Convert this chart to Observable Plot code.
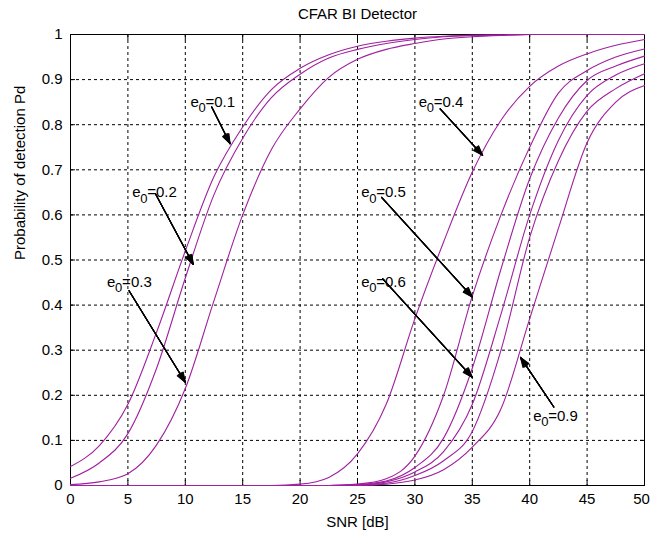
<!DOCTYPE html>
<html>
<head>
<meta charset="utf-8">
<script src="https://cdn.jsdelivr.net/npm/d3@7"></script>
<script src="https://cdn.jsdelivr.net/npm/@observablehq/plot@0.6"></script>
<style>
  html, body { margin: 0; padding: 0; background: #ffffff; }
  #chart { width: 651px; height: 536px; }
</style>
</head>
<body>
<div id="chart"></div>
<script>
// ---- data ----
const snr = [0, 2.5, 5, 7.5, 10, 12.5, 15, 17.5, 20, 22.5, 25, 27.5, 30, 32.5, 35, 37.5, 40, 42.5, 45, 47.5, 50];
const pd01 = [0.042, 0.088, 0.18, 0.34, 0.52, 0.685, 0.795, 0.878, 0.925, 0.955, 0.974, 0.985, 0.992, 0.996, 0.998, 0.999, 1, 1, 1, 1, 1];
const pd02 = [0.016, 0.05, 0.115, 0.26, 0.46, 0.645, 0.77, 0.86, 0.912, 0.948, 0.967, 0.98, 0.989, 0.995, 0.998, 0.999, 1, 1, 1, 1, 1];
const pd03 = [0.002, 0.008, 0.026, 0.09, 0.215, 0.41, 0.6, 0.745, 0.835, 0.905, 0.945, 0.967, 0.98, 0.99, 0.995, 0.998, 1, 1, 1, 1, 1];
const pd04 = [0, 0, 0, 0, 0, 0, 0, 0, 0.003, 0.018, 0.07, 0.18, 0.37, 0.54, 0.695, 0.81, 0.885, 0.93, 0.957, 0.976, 0.989];
const pd05 = [0, 0, 0, 0, 0, 0, 0, 0, 0, 0, 0.003, 0.015, 0.065, 0.2, 0.42, 0.6, 0.75, 0.87, 0.92, 0.95, 0.968];
const pd06 = [0, 0, 0, 0, 0, 0, 0, 0, 0, 0, 0.002, 0.01, 0.04, 0.105, 0.26, 0.48, 0.68, 0.815, 0.898, 0.93, 0.952];
const pd07 = [0, 0, 0, 0, 0, 0, 0, 0, 0, 0, 0.001, 0.008, 0.03, 0.075, 0.18, 0.38, 0.6, 0.765, 0.865, 0.91, 0.935];
const pd08 = [0, 0, 0, 0, 0, 0, 0, 0, 0, 0, 0.001, 0.005, 0.022, 0.055, 0.12, 0.3, 0.55, 0.72, 0.83, 0.88, 0.913];
const pd09 = [0, 0, 0, 0, 0, 0, 0, 0, 0, 0, 0, 0.003, 0.012, 0.035, 0.085, 0.17, 0.37, 0.57, 0.76, 0.85, 0.887];
const seriesNames = ["0.1", "0.2", "0.3", "0.4", "0.5", "0.6", "0.7", "0.8", "0.9"];
const seriesValues = [pd01, pd02, pd03, pd04, pd05, pd06, pd07, pd08, pd09];

const xTicks = [0, 5, 10, 15, 20, 25, 30, 35, 40, 45, 50];
const yTicks = [0, 0.1, 0.2, 0.3, 0.4, 0.5, 0.6, 0.7, 0.8, 0.9, 1];

// annotations (data coordinates): "e" + subscript "0" + "=value"
const annValue = ["0.1", "0.2", "0.3", "0.4", "0.5", "0.6", "0.9"];
const annTextX = [10.45, 5.37, 3.19, 30.34, 25.32, 25.32, 40.3];
const annTextY = [0.85, 0.65, 0.451, 0.85, 0.65, 0.451, 0.154];
const arrowX1 = [12.3, 7.4, 5.1, 32.2, 27.1, 27.2, 42.1];
const arrowY1 = [0.839, 0.647, 0.432, 0.835, 0.639, 0.458, 0.174];
const arrowX2 = [13.9, 10.7, 10.0, 35.9, 35.0, 35.0, 39.2];
const arrowY2 = [0.758, 0.49, 0.229, 0.732, 0.418, 0.24, 0.284];

const titleText = "CFAR BI Detector";
const xLabel = "SNR [dB]";
const yLabel = "Probability of detection Pd";

// ---- build tables ----
const lineData = seriesNames.flatMap((name, i) => snr.map((s, j) => ({e0: name, snr: s, pd: seriesValues[i][j]})));
const ann = annValue.map((v, i) => ({v: "=" + v, x: annTextX[i], y: annTextY[i], x1: arrowX1[i], y1: arrowY1[i], x2: arrowX2[i], y2: arrowY2[i]}));

const curveColor = "#a0209f";
const font = "'Liberation Sans', Arial, Helvetica, sans-serif";
const gridStyle = {stroke: "#000", strokeOpacity: 1, strokeWidth: 1, strokeDasharray: "3,3"};
const fmt = d => String(d);

const headMarks = [8, 16, 24, 32, 40].map(a => Plot.arrow(ann, {
  x1: "x1", y1: "y1", x2: "x2", y2: "y2",
  stroke: "#000", strokeWidth: 1.1, headAngle: a, headLength: 14
}));

const chart = Plot.plot({
  width: 651,
  height: 536,
  marginTop: 34,
  marginRight: 7,
  marginBottom: 51,
  marginLeft: 70,
  style: {fontFamily: font, fontSize: "15px", background: "#ffffff", color: "#000", overflow: "visible"},
  x: {domain: [0, 50]},
  y: {domain: [0, 1]},
  marks: [
    Plot.gridX(xTicks, gridStyle),
    Plot.gridY(yTicks, gridStyle),
    Plot.frame({stroke: "#000", strokeWidth: 1}),
    Plot.axisX(xTicks, {anchor: "bottom", tickSize: -5, tickFormat: () => "", label: null}),
    Plot.axisX(xTicks, {anchor: "top", tickSize: -5, tickFormat: () => "", label: null}),
    Plot.axisY(yTicks, {anchor: "left", tickSize: -5, tickFormat: () => "", label: null}),
    Plot.axisY(yTicks, {anchor: "right", tickSize: -5, tickFormat: () => "", label: null}),
    Plot.axisX(xTicks.slice(0, -1), {anchor: "bottom", tickSize: 0, tickPadding: 8, label: null, fontSize: 15, tickFormat: fmt}),
    Plot.axisX(xTicks.slice(-1), {anchor: "bottom", tickSize: 0, tickPadding: 8, label: null, fontSize: 15, tickFormat: fmt, dx: -3}),
    Plot.axisY(yTicks, {anchor: "left", tickSize: 0, tickPadding: 8, label: null, fontSize: 15, tickFormat: fmt}),
    Plot.line(lineData, {x: "snr", y: "pd", z: "e0", stroke: curveColor, strokeWidth: 1.1, curve: "monotone-x"}),
    ...headMarks,
    Plot.text(ann, {x: "x", y: "y", text: () => "e", textAnchor: "start", lineAnchor: "middle", fontSize: 15, fill: "#000"}),
    Plot.text(ann, {x: "x", y: "y", text: () => "0", textAnchor: "start", lineAnchor: "middle", fontSize: 13, dx: 8, dy: 6, fill: "#000"}),
    Plot.text(ann, {x: "x", y: "y", text: "v", textAnchor: "start", lineAnchor: "middle", fontSize: 15, dx: 15, fill: "#000"}),
    Plot.text([titleText], {frameAnchor: "top", dy: -20, lineAnchor: "middle", fontSize: 15, fill: "#000"}),
    Plot.text([xLabel], {frameAnchor: "bottom", dy: 37, lineAnchor: "middle", fontSize: 15, fill: "#000"}),
    Plot.text([yLabel], {frameAnchor: "left", dx: -50, rotate: -90, lineAnchor: "middle", fontSize: 15, fill: "#000"})
  ]
});
document.getElementById("chart").appendChild(chart);
</script>
</body>
</html>
